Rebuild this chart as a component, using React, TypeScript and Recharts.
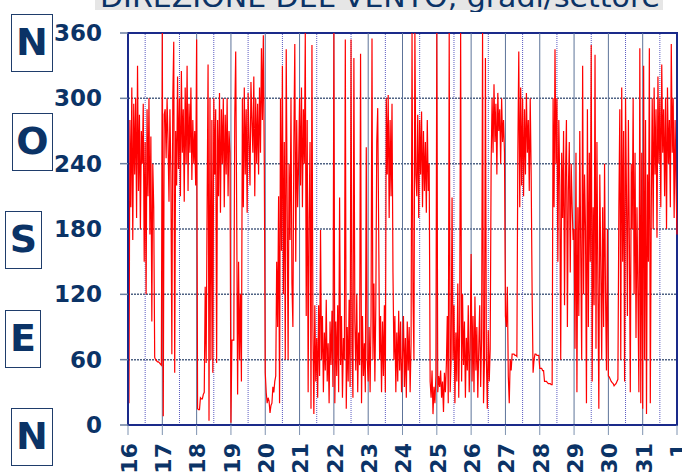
import React from 'react';
import {
  LineChart,
  Line,
  XAxis,
  YAxis,
  CartesianGrid,
  ReferenceLine,
  ReferenceArea
} from 'recharts';

// Tick labels along the time axis (days of the month)
const DAY_LABELS = ['16', '17', '18', '19', '20', '21', '22', '23', '24', '25', '26', '27', '28', '29', '30', '31', '1'];
const DIR_TICKS = [0, 60, 120, 180, 240, 300, 360];
const COMPASS = ['N', 'O', 'S', 'E', 'N'];

// Wind direction (degrees), 36 readings per day (every 40 min)
const D16 = [40, 20, 280, 200, 310, 170, 295, 230, 300, 190, 330, 215, 285, 180, 270, 240, 295, 150, 260, 120, 290, 210, 300, 175, 265, 95, 240, 200, 62, 60, 59, 58, 58, 57, 56, 55];
const D17 = [360, 8, 285, 290, 245, 300, 260, 205, 290, 230, 65, 300, 352, 48, 270, 220, 320, 235, 300, 210, 325, 250, 290, 205, 310, 240, 330, 215, 295, 250, 310, 225, 280, 240, 270, 220];
const D18 = [354, 15, 14, 14, 25, 24, 24, 28, 30, 127, 57, 200, 331, 4, 300, 60, 280, 48, 300, 230, 290, 57, 280, 210, 305, 195, 290, 240, 300, 200, 285, 230, 300, 210, 270, 250];
const D19 = [2, 78, 78, 78, 282, 343, 200, 28, 150, 60, 120, 40, 300, 200, 310, 230, 290, 195, 305, 260, 220, 315, 280, 250, 320, 210, 300, 240, 295, 230, 310, 250, 346, 280, 358, 240];
const D20 = [48, 30, 20, 25, 22, 11, 18, 20, 35, 30, 40, 45, 150, 90, 210, 20, 300, 160, 330, 120, 260, 60, 345, 200, 60, 240, 170, 300, 130, 90, 260, 350, 150, 280, 200, 240];
const D21 = [300, 220, 310, 200, 290, 240, 360, 100, 280, 30, 190, 260, 15, 349, 90, 10, 110, 40, 80, 25, 110, 45, 179, 60, 100, 30, 85, 50, 115, 40, 75, 20, 95, 55, 105, 35];
const D22 = [360, 20, 95, 45, 110, 30, 209, 55, 100, 25, 80, 60, 354, 15, 90, 40, 115, 35, 354, 70, 25, 337, 95, 50, 120, 30, 85, 55, 341, 20, 100, 45, 75, 30, 255, 60];
const D23 = [40, 90, 30, 100, 355, 60, 130, 40, 110, 260, 291, 180, 60, 100, 30, 95, 45, 110, 30, 300, 230, 303, 190, 280, 210, 295, 140, 60, 100, 30, 85, 40, 105, 50, 95, 30];
const D24 = [60, 100, 35, 80, 25, 95, 50, 90, 30, 75, 360, 120, 60, 360, 230, 210, 285, 190, 280, 230, 288, 200, 270, 215, 260, 195, 280, 215, 240, 40, 25, 50, 10, 35, 20, 45];
const D25 = [360, 30, 45, 35, 50, 25, 40, 12, 48, 30, 55, 100, 20, 360, 30, 60, 209, 60, 110, 20, 85, 40, 130, 25, 95, 360, 40, 120, 55, 95, 25, 80, 50, 110, 30, 70];
const D26 = [157, 40, 100, 30, 118, 50, 90, 25, 70, 110, 35, 80, 360, 20, 60, 337, 60, 15, 87, 40, 70, 240, 300, 250, 313, 260, 295, 230, 305, 270, 290, 240, 300, 260, 280, 250];
const D27 = [100, 90, 127, 45, 20, 60, 50, 65, 65, 65, 64, 64, 63, 250, 343, 200, 310, 220, 300, 210, 290, 230, 305, 250, 280, 215, 300, 230, 120, 48, 60, 65, 65, 64, 64, 64];
const D28 = [52, 52, 52, 50, 50, 40, 40, 40, 39, 38, 38, 38, 37, 37, 300, 200, 345, 240, 300, 150, 280, 220, 60, 250, 190, 270, 110, 230, 280, 90, 215, 260, 140, 240, 200, 170];
const D29 = [180, 70, 250, 30, 200, 100, 270, 160, 60, 330, 120, 230, 180, 20, 290, 90, 250, 150, 349, 40, 200, 110, 340, 70, 260, 130, 15, 230, 150, 60, 200, 90, 240, 120, 50, 180];
const D30 = [45, 44, 42, 40, 39, 38, 36, 37, 38, 40, 42, 200, 290, 60, 310, 150, 270, 40, 300, 210, 100, 280, 170, 30, 240, 180, 300, 120, 250, 80, 200, 120, 30, 346, 20, 250];
const D31 = [15, 330, 60, 280, 10, 230, 150, 346, 20, 200, 300, 180, 310, 230, 290, 172, 320, 240, 300, 200, 331, 250, 290, 210, 300, 180, 310, 240, 280, 200, 350, 250, 300, 190, 280, 220];
const END_VALUE = 175;

const DAYS = [D16, D17, D18, D19, D20, D21, D22, D23, D24, D25, D26, D27, D28, D29, D30, D31];

const NAVY = '#0b3366';
const FONT = '"DejaVu Sans", Verdana, sans-serif';

const series = DAYS.flatMap((vals, d) => vals.map((v, i) => ({ t: d + i / vals.length, dir: v })))
  .concat([{ t: DAYS.length, dir: END_VALUE }]);

const dayTicks = DAY_LABELS.map((_, i) => i);

const XTick = (props: any) => {
  const { x, y, payload } = props;
  return (
    <g transform={`translate(${x},${y})`}>
      <text
        transform="rotate(-90)"
        textAnchor="end"
        dy="0.4em"
        fill={NAVY}
        fontSize={22}
        fontWeight="bold"
        fontFamily={FONT}
      >
        {DAY_LABELS[payload.value]}
      </text>
    </g>
  );
};

const boxes = [
  { left: 11, top: 14, width: 42 },
  { left: 12, top: 113, width: 41 },
  { left: 5, top: 211, width: 37 },
  { left: 5, top: 310, width: 36 },
  { left: 11, top: 408, width: 42 }
];

const App = () => {
  return (
    <div style={{ position: 'absolute', left: 0, top: 0, width: 682, height: 472, background: '#fff', overflow: 'hidden' }}>
      {/* cropped title bar */}
      <svg width={682} height={12} style={{ position: 'absolute', left: 0, top: 0 }}>
        <rect x={95} y={0} width={568} height={10} fill="#e6e6e6" />
        <text x={100} y={7} fill={NAVY} fontSize={28} fontFamily={FONT} textLength={560} lengthAdjust="spacingAndGlyphs">
          DIREZIONE DEL VENTO, gradi/settore
        </text>
      </svg>

      {/* compass boxes */}
      {COMPASS.map((c, i) => (
        <div
          key={i}
          style={{
            position: 'absolute',
            left: boxes[i].left,
            top: boxes[i].top,
            width: boxes[i].width,
            height: 58,
            boxSizing: 'border-box',
            border: '1.5px solid #1f3d6b',
            color: NAVY,
            fontFamily: FONT,
            fontWeight: 'bold',
            fontSize: 38,
            lineHeight: '55px',
            textAlign: 'center'
          }}
        >
          {c}
        </div>
      ))}

      <div style={{ position: 'absolute', left: 0, top: 0 }}>
        <LineChart width={682} height={472} data={series} margin={{ top: 33, right: 5, left: 0, bottom: 0 }}>
          <CartesianGrid vertical={false} stroke="#4f6283" strokeDasharray="2 1" strokeWidth={1.5} />
          {dayTicks.slice(0, -1).map((d) => (
            <ReferenceLine key={`h${d}`} x={d + 0.5} stroke="#5a5ac0" strokeDasharray="1 1" strokeWidth={1} />
          ))}
          {dayTicks.slice(1, -1).map((d) => (
            <ReferenceLine key={`d${d}`} x={d} stroke="#5d7399" strokeWidth={1} />
          ))}
          <XAxis
            dataKey="t"
            type="number"
            domain={[0, DAYS.length]}
            ticks={dayTicks}
            interval={0}
            height={47}
            tickSize={10}
            tickMargin={8}
            axisLine={{ stroke: '#1a2a8a', strokeWidth: 2 }}
            tickLine={{ stroke: '#7f93b0' }}
            tick={<XTick />}
          />
          <YAxis
            type="number"
            domain={[0, 360]}
            ticks={DIR_TICKS}
            interval={0}
            width={128}
            tickSize={8}
            tickMargin={18}
            axisLine={{ stroke: '#1a2a8a', strokeWidth: 2 }}
            tickLine={{ stroke: '#6b7fa0', strokeWidth: 1.5 }}
            tick={{ fill: NAVY, fontSize: 23, fontWeight: 'bold', fontFamily: FONT }}
          />
          <Line
            type="linear"
            dataKey="dir"
            stroke="#ff0000"
            strokeWidth={1.2}
            dot={false}
            isAnimationActive={false}
          />
          <ReferenceArea x1={0} x2={DAYS.length} y1={0} y2={360} fill="none" stroke="#1a2a8a" strokeWidth={2} />
        </LineChart>
      </div>
    </div>
  );
};

export default App;
